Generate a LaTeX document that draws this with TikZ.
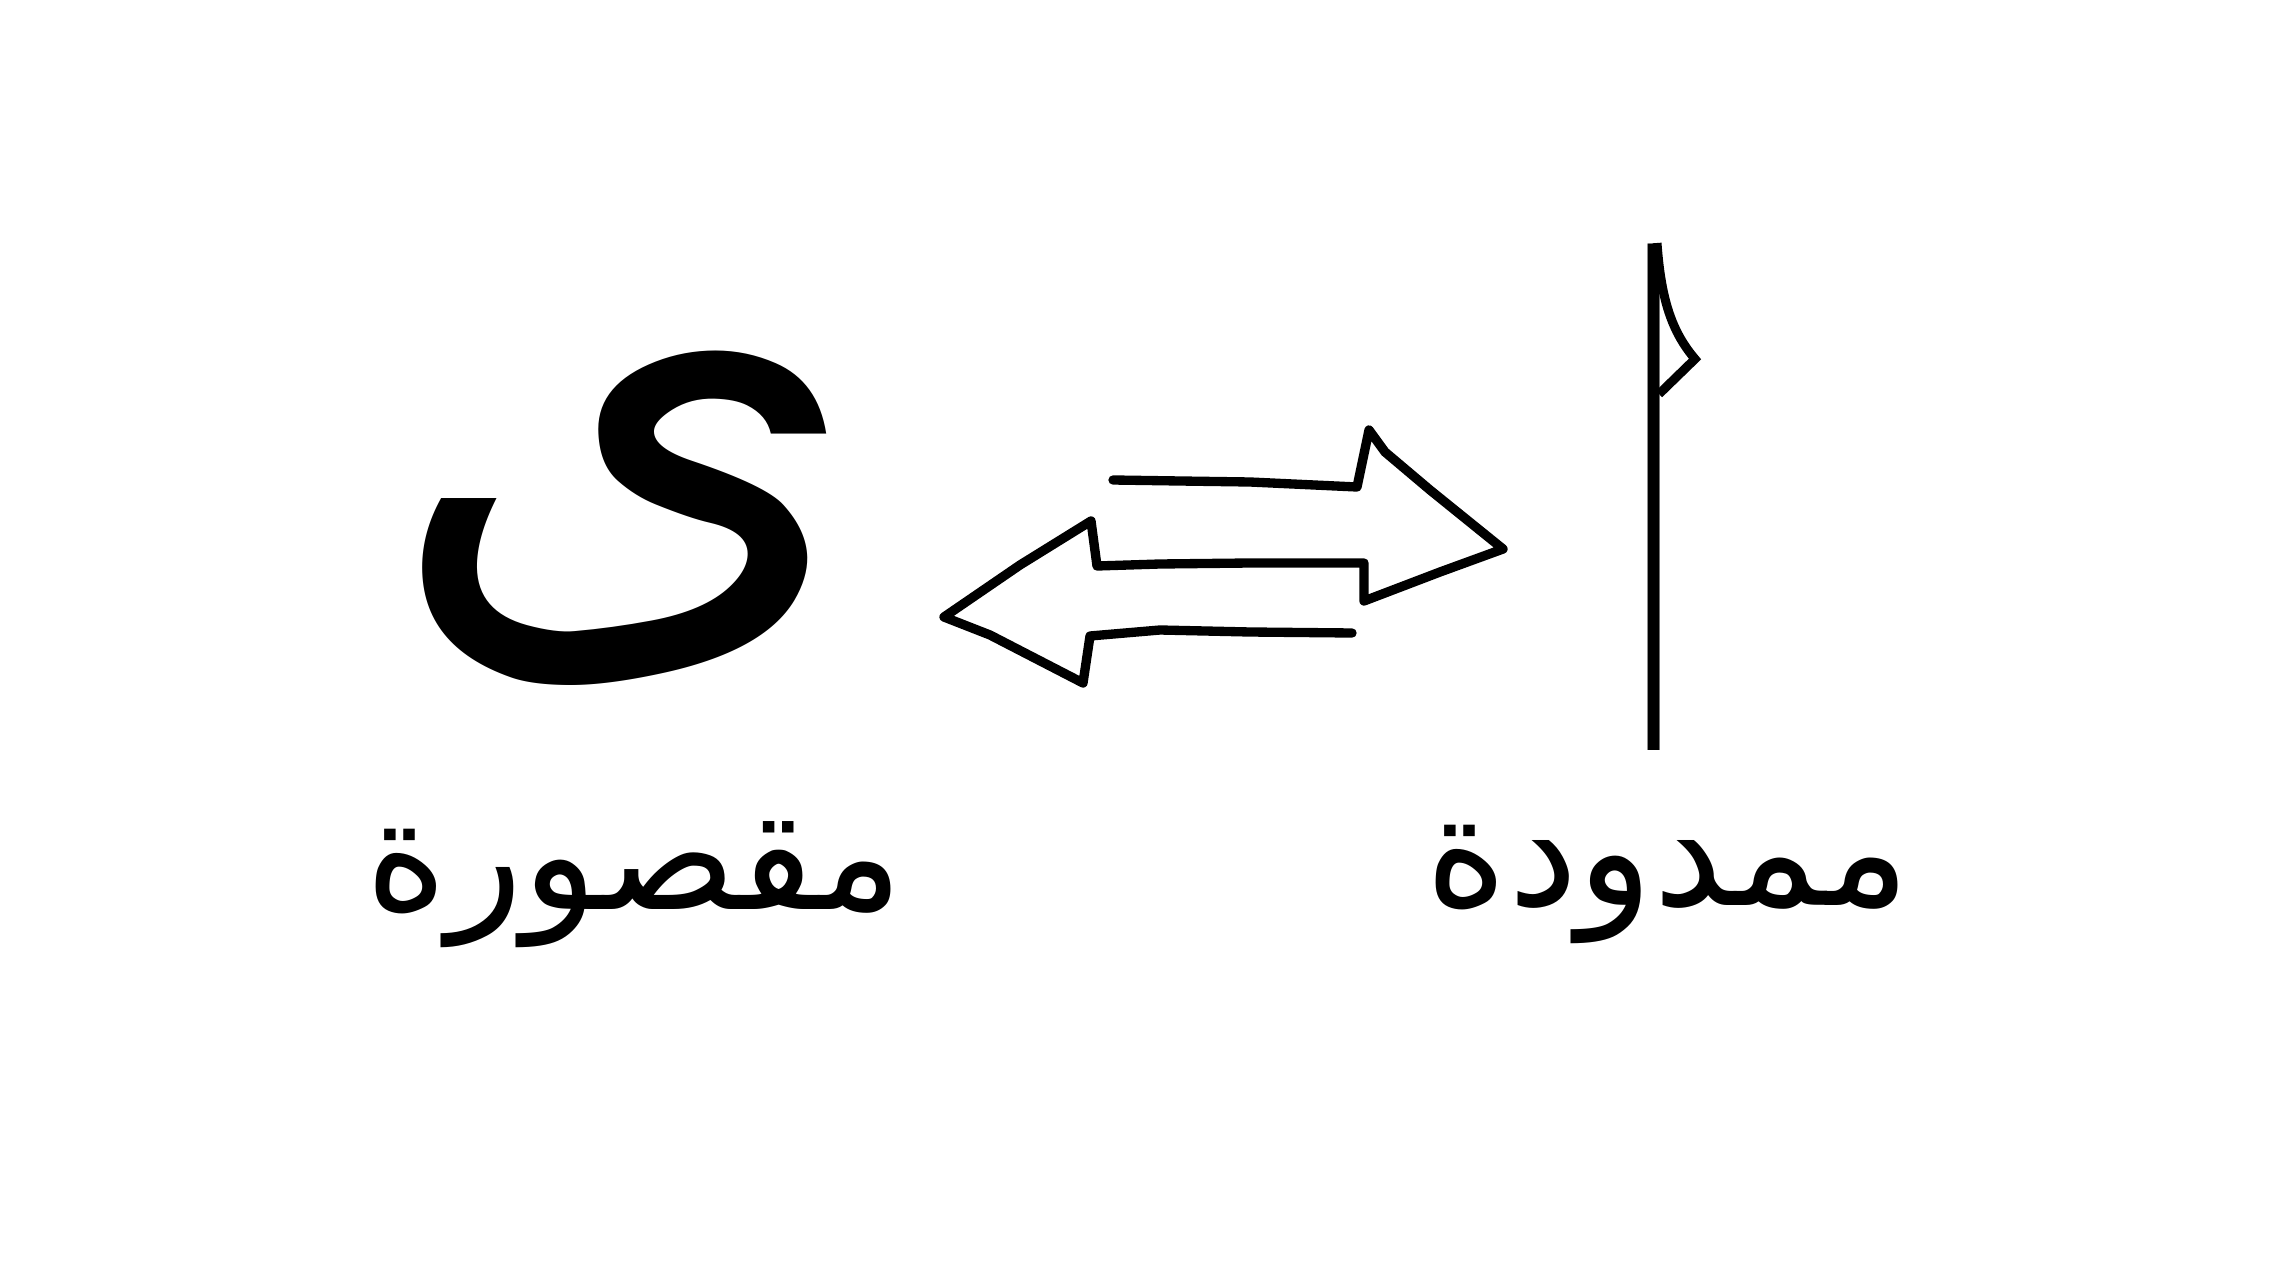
\documentclass[tikz,border=0pt]{standalone}
\usepackage{fontspec}
\usepackage{graphicx}
\usepackage{tikz}
\usetikzlibrary{positioning}
\TeXXeTstate=1
\newfontfamily\arabicfont[Script=Arabic]{DejaVu Sans}

\begin{document}
\begin{tikzpicture}[x=0.3pt,y=-0.3pt,
  big letter/.style={inner sep=0pt,anchor=base,text depth=0pt,
    font=\arabicfont\fontsize{#1}{#1}\selectfont},
  word/.style={inner sep=0pt,anchor=base,font=\arabicfont\fontsize{47}{50}\selectfont},
  sketch/.style={line width=2.8pt,line join=round,line cap=round}]

  \useasboundingbox[fill=white] (0,0) rectangle (2288,1286);

  % the two letters
  \node[big letter=185pt] (maqsura) at (625,605) {\beginR ى\endR};
  \node[big letter=200pt] (mamduda) at (1654,750) {\scalebox{0.2}[1]{\beginR ا\endR}};
  \draw[line width=2.7pt,line join=miter] (1657,243)
    .. controls (1661,300) and (1672,332) .. (1695,359) -- (1659,394);

  % their names
  \node[word] (maqsuraname) at (634,909) {\beginR مقصورة\endR};
  \node[word] (mamdudaname) at (1668,905) {\beginR ممدودة\endR};

  % hand drawn double arrow
  \coordinate (rstart) at (1113,480);
  \coordinate (lend) at (1352,633);
  \draw[sketch] (rstart) -- (1180,481) -- (1250,482) -- (1357,487)
    -- (1369,430) -- (1385,452) -- (1430,490) -- (1503,549)
    -- (1440,572) -- (1364,601) -- (1364,563)
    -- (1250,563) -- (1160,564) -- (1097,566) -- (1091,521)
    -- (1020,565) -- (944,617) -- (990,635) -- (1083,683)
    -- (1090,636) -- (1160,630) -- (1250,632) -- (lend);
\end{tikzpicture}
\end{document}
